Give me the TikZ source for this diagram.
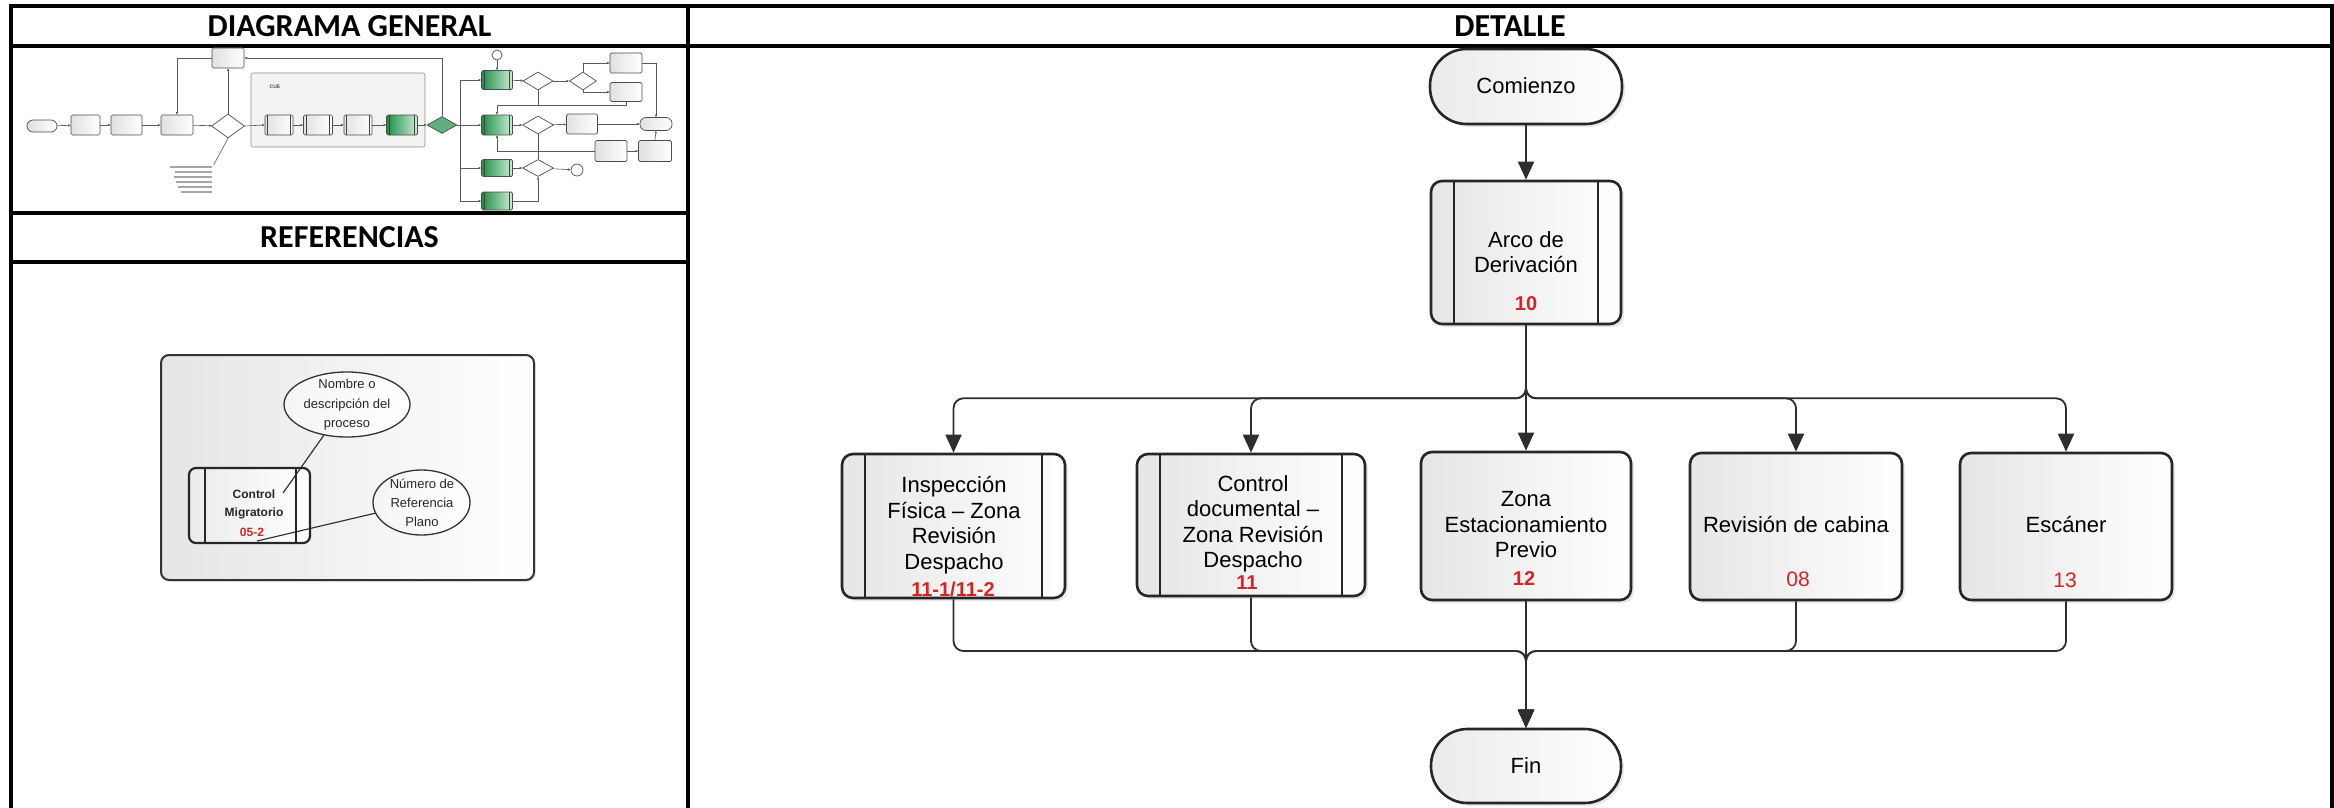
\documentclass[tikz,border=0pt]{standalone}
\usepackage{fontspec}
\setmainfont{Liberation Sans}
\newfontfamily\headfont{Carlito}
\usetikzlibrary{arrows.meta,shapes.geometric,shadows,calc}

\definecolor{numred}{RGB}{215,35,35}
\definecolor{gdark}{RGB}{30,140,70}
\definecolor{glight}{RGB}{205,238,214}

\begin{document}
\begin{tikzpicture}[x=1pt,y=-1pt,
  frame/.style={line width=3.6pt,black},
  hdr/.style={font=\headfont\bfseries\fontsize{32}{36}\selectfont},
  % detail flowchart
  proc/.style={draw=black!85,line width=2.6pt,rounded corners=11pt,
    left color=black!10,right color=white,inner sep=0pt,
    drop shadow={opacity=0.18,shadow xshift=3pt,shadow yshift=-3pt}},
  predef/.style={proc,path picture={
    \draw[line width=2.4pt,black!85]
      ([xshift=23pt]path picture bounding box.north west) -- ([xshift=23pt]path picture bounding box.south west)
      ([xshift=-23pt]path picture bounding box.north east) -- ([xshift=-23pt]path picture bounding box.south east);}},
  term/.style={proc,rounded corners=36.5pt,left color=black!8},
  sz/.style 2 args={minimum width=#1pt,minimum height=#2pt},
  tx/.style={font=\fontsize{22}{25.5}\selectfont,align=center,text=black,inner sep=0pt},
  num/.style={font=\fontsize{21}{24}\selectfont,text=numred,inner sep=0pt},
  numb/.style={num,font=\bfseries\fontsize{20}{24}\selectfont},
  conn/.style={line width=1.8pt,draw=black!82,rounded corners=10pt,
    -{Triangle[length=18pt,width=16pt]}},
  % reference panel
  rtx/.style={font=\fontsize{13}{19.5}\selectfont,align=center,text=black!85,inner sep=0pt},
  % overview flowchart
  mb/.style={draw=black!70,line width=0.7pt,rounded corners=1.5pt,
    left color=black!12,right color=white,inner sep=0pt},
  mproc/.style={mb,path picture={
    \draw[line width=0.7pt,black!75]
      ([xshift=2.8pt]path picture bounding box.north west) -- ([xshift=2.8pt]path picture bounding box.south west)
      ([xshift=-2.8pt]path picture bounding box.north east) -- ([xshift=-2.8pt]path picture bounding box.south east);}},
  mgreen/.style={mproc,left color=gdark,right color=glight},
  mterm/.style={mb,rounded corners=6pt},
  mdia/.style={diamond,draw=black!70,line width=0.7pt,inner sep=0pt,fill=white},
  ml/.style={line width=0.6pt,draw=black!65,-{Triangle[length=2.6pt,width=2.2pt]}},
  mlp/.style={line width=0.6pt,draw=black!65},
]
\useasboundingbox (0,0) rectangle (2334,808);

% ---------- table frame ----------
\draw[frame] (11,810) -- (11,6) -- (2332,6) -- (2332,810);
\draw[frame] (11,46) -- (2332,46);
\draw[frame] (688,6) -- (688,810);
\draw[frame] (11,213) -- (688,213) (11,262) -- (688,262);

\node[hdr] (hgen) at (349.5,26) {DIAGRAMA GENERAL};
\node[hdr] (href) at (349.5,237.5) {REFERENCIAS};
\node[hdr] (hdet) at (1510,26) {DETALLE};

% ---------- overview flowchart ----------
\node[draw=black!45,line width=0.6pt,fill=black!5,rounded corners=2pt,sz={174}{74}] (cue) at (338,110) {};
\node[font=\bfseries\fontsize{5}{6}\selectfont,text=black!70] (cuelbl) at (275,87) {CUE};

\node[mterm,sz={30}{12}] (mstart) at (42,126) {};
\node[mb,sz={29}{20}] (ma) at (85.5,125) {};
\node[mb,sz={31}{20}] (mbx) at (126.5,125) {};
\node[mb,sz={32}{20}] (mc) at (177,125) {};
\node[mb,sz={32}{20}] (mt) at (228,58) {};
\node[mdia,sz={33}{24}] (md1) at (228,126) {};
\node[sz={43}{28}] (note) at (192,179) {};
\foreach \yy/\xa in {167/170,172/175,177/174,182/176,187/178,192/181}
  \draw[black!35,line width=1.5pt] (\xa,\yy) -- (212,\yy);

\node[mproc,sz={28}{20}] (me1) at (279,125) {};
\node[mproc,sz={29}{20}] (me2) at (318,125) {};
\node[mproc,sz={28}{20}] (me3) at (358,125) {};
\node[mgreen,sz={31}{20}] (me4) at (402,125) {};
\node[mdia,sz={30}{17},fill=gdark!70] (md2) at (442,125) {};

\node[mgreen,sz={31}{19}] (mg1) at (497,80) {};
\node[mgreen,sz={31}{20}] (mg2) at (497,125) {};
\node[mgreen,sz={31}{17}] (mg3) at (497,168) {};
\node[mgreen,sz={31}{18}] (mg4) at (497,201) {};
\node[circle,draw=black!70,line width=0.7pt,minimum size=10pt,inner sep=0pt,fill=white] (mc1) at (497,55) {};
\node[circle,draw=black!70,line width=0.7pt,minimum size=12pt,inner sep=0pt,fill=white] (mc2) at (577,170) {};

\node[mdia,sz={30}{18}] (md3) at (538,81) {};
\node[mdia,sz={27}{18}] (md4) at (583,81) {};
\node[mb,sz={32}{20}] (mr1) at (626,63) {};
\node[mb,sz={32}{19}] (mr2) at (626,92) {};
\node[mdia,sz={31}{18}] (md5) at (538,125) {};
\node[mb,sz={31}{20}] (mr3) at (582,124) {};
\node[mterm,sz={32}{13}] (mfin) at (656,124) {};
\node[mb,sz={32}{21}] (mr4) at (611,151) {};
\node[mb,sz={33}{21}] (mr5) at (655,151) {};
\node[mdia,sz={31}{17}] (md6) at (538,168) {};

\coordinate (mtr) at (460,125);
\coordinate (mj) at (497,105);

\draw[ml] (mstart) -- (ma);
\draw[ml] (ma) -- (mbx);
\draw[ml] (mbx) -- (mc);
\draw[ml] (mc) -- (md1);
\draw[ml] (md1.north) -- (mt.south);
\draw[ml] (mt.west) -| (mc.north);
\draw[mlp] (md1.south) -- (note.north east);
\draw[ml] (md1.east) -- (me1.west);
\draw[ml] (me1) -- (me2);
\draw[ml] (me2) -- (me3);
\draw[ml] (me3) -- (me4);
\draw[ml] (me4) -- (md2);
\draw[ml] (md2.north) |- (mt.east);
\draw[mlp] (md2.east) -- (mtr);
\draw[ml] (mtr) |- (mg1.west);
\draw[ml] (mtr) -- (mg2.west);
\draw[ml] (mtr) |- (mg3.west);
\draw[ml] (mtr) |- (mg4.west);
\draw[ml] (mc1) -- (mg1);
\draw[ml] (mg1) -- (md3);
\draw[ml] (md3) -- (md4);
\draw[ml] (md4.north) |- (mr1.west);
\draw[ml] (md4.south) |- (mr2.west);
\draw[ml] (mr1.east) -| (mfin.north);
\draw[mlp] (md3.south) |- (mj);
\draw[mlp] (mr2.south) |- (mj);
\draw[ml] (mj) -- (mg2.north);
\draw[ml] (mg2) -- (md5);
\draw[ml] (md5) -- (mr3);
\draw[ml] (mr3) -- (mfin);
\draw[mlp] (md5.south) -- (md6.north);
\draw[ml] (mr4.west) -| (mg2.south);
\draw[ml] (mr4) -- (mr5);
\draw[ml] (mr5.north) -- (mfin.south);
\draw[ml] (mg3) -- (md6);
\draw[ml] (md6) -- (mc2);
\draw[ml] (mg4.east) -| (md6.south);

% ---------- reference panel ----------
\node[draw=black!80,line width=2pt,rounded corners=8pt,left color=black!10,right color=white,
  sz={373}{225},drop shadow={opacity=0.15,shadow xshift=2pt,shadow yshift=-2pt}] (refbox) at (347.5,467.5) {};
\node[draw=black!85,line width=2.2pt,rounded corners=7pt,left color=black!8,right color=white,
  sz={121}{75},inner sep=0pt,path picture={
    \draw[line width=2pt,black!85]
      ([xshift=16pt]path picture bounding box.north west) -- ([xshift=16pt]path picture bounding box.south west)
      ([xshift=-14pt]path picture bounding box.north east) -- ([xshift=-14pt]path picture bounding box.south east);}]
  (refproc) at (249.5,505.5) {};
\node[font=\bfseries\fontsize{12}{18}\selectfont,align=center,inner sep=0pt,text=black!85] (reftxt) at (254,504) {Control\\Migratorio};
\node[font=\bfseries\fontsize{12}{14}\selectfont,text=numred,inner sep=0pt] (refnum) at (252,532) {05-2};

\node[ellipse,draw=black!80,line width=1.3pt,left color=black!4,right color=white,sz={126}{65}] (el1) at (347,404.5) {};
\node[rtx] (el1t) at (347,405) {Nombre o\\descripción del\\proceso};
\node[ellipse,draw=black!80,line width=1.3pt,left color=black!4,right color=white,sz={97}{65}] (el2) at (421.5,502.5) {};
\node[rtx,font=\fontsize{13}{19}\selectfont] (el2t) at (422,503) {Número de\\Referencia\\Plano};

\coordinate (p1) at (283,493);
\coordinate (p2) at (257,541);
\draw[black!85,line width=1.1pt] (el1.233) -- (p1);
\draw[black!85,line width=1.1pt] (el2.193) -- (p2);

% ---------- detail flowchart ----------
\node[term,sz={192}{75}] (start) at (1526,86.5) {};
\node[tx] (startt) at (1526,86) {Comienzo};

\node[predef,sz={190}{143}] (arco) at (1526,252.5) {};
\node[tx] (arcot) at (1526,252) {Arco de\\Derivación};
\node[numb] (arcon) at (1526,304) {10};

\node[predef,sz={223}{144}] (b1) at (953.5,526) {};
\node[predef,sz={228}{142}] (b2) at (1251,525) {};
\node[proc,sz={210}{148}] (b3) at (1526,526) {};
\node[proc,sz={212}{147}] (b4) at (1796,526.5) {};
\node[proc,sz={212}{147}] (b5) at (2066,526.5) {};

\node[tx] (b1t) at (954,525) {Inspección\\Física – Zona\\Revisión\\Despacho};
\node[numb] (b1n) at (953,589) {11-1/11-2};
\node[tx] (b2t) at (1253,524) {Control\\documental –\\Zona Revisión\\Despacho};
\node[numb] (b2n) at (1247,583) {11};
\node[tx] (b3t) at (1526,525) {Zona\\Estacionamiento\\Previo};
\node[numb] (b3n) at (1524,579) {12};
\node[tx] (b4t) at (1796,525) {Revisión de cabina};
\node[num] (b4n) at (1798,579) {08};
\node[tx] (b5t) at (2066,525) {Escáner};
\node[num] (b5n) at (2065,580) {13};

\node[term,sz={190}{74}] (fin) at (1526,766) {};
\node[tx] (fint) at (1526,766) {Fin};

\coordinate (mrg) at (1526,651);

\draw[conn] (start) -- (arco);
\draw[conn] (arco.south) -- ++(0,73) -| (b1.north);
\draw[conn] (arco.south) -- ++(0,73) -| (b2.north);
\draw[conn] (arco.south) -- (b3.north);
\draw[conn] (arco.south) -- ++(0,73) -| (b4.north);
\draw[conn] (arco.south) -- ++(0,73) -| (b5.north);

\draw[conn] (b1.south) |- (mrg) -- (fin.north);
\draw[conn] (b2.south) |- (mrg) -- (fin.north);
\draw[conn] (b3.south) -- (fin.north);
\draw[conn] (b4.south) |- (mrg) -- (fin.north);
\draw[conn] (b5.south) |- (mrg) -- (fin.north);
\end{tikzpicture}
\end{document}
